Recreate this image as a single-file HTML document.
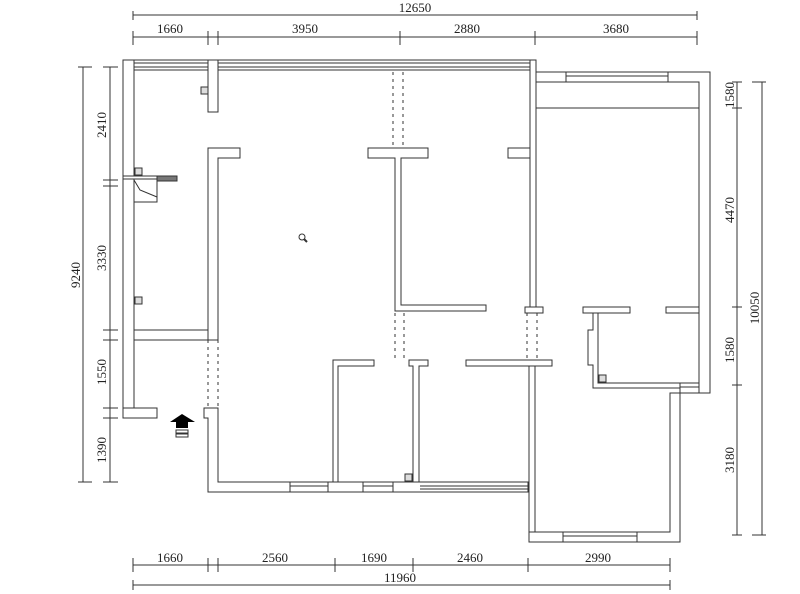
<!DOCTYPE html>
<html><head><meta charset="utf-8"><style>
html,body{margin:0;padding:0;background:#fff;width:800px;height:594px;overflow:hidden}
svg{display:block}
text{font-family:"Liberation Serif",serif;font-size:13px;fill:#222}
</style></head><body>
<svg width="800" height="594" viewBox="0 0 800 594" xmlns="http://www.w3.org/2000/svg">
<g stroke="#333" stroke-width="1" fill="#fff">
<!-- top wall with window lines -->
<rect x="123" y="60" width="412" height="10"/>
<line x1="134" y1="63" x2="530" y2="63"/><line x1="134" y1="67" x2="530" y2="67"/>
<!-- left outer wall -->
<rect x="123" y="60" width="11" height="358" />
<rect x="123" y="408" width="34" height="10"/>
<rect x="134" y="330" width="74" height="10"/>
<!-- left partition upper stub -->
<rect x="208" y="60" width="10" height="52"/>
<!-- left partition -->
<path d="M208 148 H240 V158 H218 V340 H208 Z"/>
<!-- entry / bottom left -->
<path d="M204 408 H218 V482 H528 V492 H208 V418 H204 Z"/>
<!-- windows bottom -->
<rect x="290" y="482" width="38" height="10"/><line x1="290" y1="486" x2="328" y2="486"/>
<rect x="363" y="482" width="30" height="10"/><line x1="363" y1="486" x2="393" y2="486"/>
<line x1="420" y1="486" x2="528" y2="486"/><line x1="420" y1="489" x2="528" y2="489"/>
<!-- T wall center -->
<path d="M368 148 H428 V158 H401 V305 H486 V311 H395 V158 H368 Z"/>
<rect x="508" y="148" width="22" height="10"/>
<!-- lower partitions -->
<path d="M333 360 H374 V366 H338 V482 H333 Z"/>
<path d="M409 360 H428 V366 H419 V482 H413 V366 H409 Z"/>
<rect x="466" y="360" width="86" height="6"/>
<!-- main vertical divider -->
<rect x="530" y="60" width="6" height="247"/>
<rect x="525" y="307" width="18" height="6"/>
<rect x="529" y="366" width="6" height="176"/>
<!-- right wing -->
<path d="M536 72 H710 V393 H699 V82 H536 Z"/>
<line x1="536" y1="108" x2="699" y2="108"/>
<rect x="566" y="72" width="102" height="10"/><line x1="566" y1="76" x2="668" y2="76"/>
<rect x="583" y="307" width="47" height="6"/>
<rect x="666" y="307" width="33" height="6"/>
<path d="M593 313 H598 V383 H680 V388 H593 V365 H588 V330 H593 Z"/>
<rect x="680" y="383" width="19" height="10"/><line x1="680" y1="387" x2="699" y2="387"/>
<!-- lower right room -->
<path d="M535 532 H670 V393 H680 V542 H529 V532 Z"/>
<rect x="563" y="532" width="74" height="10"/><line x1="563" y1="536" x2="637" y2="536"/>
<!-- sink -->
<rect x="134" y="178" width="23" height="24"/>
<polyline points="134,180 140,190 157,197" fill="none"/>
<rect x="157" y="176" width="20" height="5" fill="#777"/>
<rect x="123" y="176" width="34" height="3"/>
</g>
<!-- dashed openings -->
<g stroke="#333" stroke-width="1" stroke-dasharray="3,4">
<line x1="393" y1="72" x2="393" y2="148"/><line x1="403" y1="72" x2="403" y2="148"/>
<line x1="395" y1="313" x2="395" y2="360"/><line x1="404" y1="313" x2="404" y2="360"/>
<line x1="208" y1="340" x2="208" y2="408"/><line x1="218" y1="340" x2="218" y2="408"/>
<line x1="527" y1="313" x2="527" y2="360"/><line x1="537" y1="313" x2="537" y2="360"/>
</g>
<!-- small symbols -->
<g stroke="#333" stroke-width="1" fill="#ddd">
<rect x="201" y="87" width="7" height="7"/><rect x="135" y="168" width="7" height="7"/>
<rect x="135" y="297" width="7" height="7"/><rect x="405" y="474" width="7" height="7"/>
<rect x="599" y="375" width="7" height="7"/>
</g>
<circle cx="302" cy="237" r="3" fill="none" stroke="#333"/><line x1="304" y1="239" x2="307" y2="242" stroke="#333" stroke-width="2"/>
<!-- entry arrow -->
<polygon points="170,422 182,414 195,422 188,422 188,428 176,428 176,422" fill="#000"/>
<rect x="176" y="430" width="12" height="3" fill="none" stroke="#333"/>
<rect x="176" y="434" width="12" height="3" fill="none" stroke="#333"/>
<!-- dimensions -->
<g stroke="#333" stroke-width="1" fill="none">
<line x1="133" y1="15" x2="697" y2="15"/><line x1="133" y1="11" x2="133" y2="20"/><line x1="697" y1="11" x2="697" y2="20"/>
<line x1="133" y1="37" x2="697" y2="37"/>
<line x1="133" y1="31" x2="133" y2="45"/><line x1="208" y1="31" x2="208" y2="45"/><line x1="218" y1="31" x2="218" y2="45"/>
<line x1="400" y1="31" x2="400" y2="45"/><line x1="535" y1="31" x2="535" y2="45"/><line x1="697" y1="31" x2="697" y2="45"/>
<line x1="83" y1="67" x2="83" y2="482"/><line x1="78" y1="67" x2="92" y2="67"/><line x1="78" y1="482" x2="92" y2="482"/>
<line x1="110" y1="67" x2="110" y2="482"/>
<line x1="103" y1="67" x2="118" y2="67"/><line x1="103" y1="180" x2="118" y2="180"/><line x1="103" y1="186" x2="118" y2="186"/>
<line x1="103" y1="330" x2="118" y2="330"/><line x1="103" y1="340" x2="118" y2="340"/>
<line x1="103" y1="408" x2="118" y2="408"/><line x1="103" y1="418" x2="118" y2="418"/><line x1="103" y1="482" x2="118" y2="482"/>
<line x1="737" y1="82" x2="737" y2="535"/>
<line x1="732" y1="82" x2="742" y2="82"/><line x1="732" y1="108" x2="742" y2="108"/>
<line x1="732" y1="307" x2="742" y2="307"/><line x1="732" y1="385" x2="742" y2="385"/><line x1="732" y1="535" x2="742" y2="535"/>
<line x1="762" y1="82" x2="762" y2="535"/><line x1="752" y1="82" x2="766" y2="82"/><line x1="752" y1="535" x2="766" y2="535"/>
<line x1="133" y1="565" x2="670" y2="565"/>
<line x1="133" y1="558" x2="133" y2="572"/><line x1="208" y1="558" x2="208" y2="572"/><line x1="218" y1="558" x2="218" y2="572"/>
<line x1="335" y1="558" x2="335" y2="572"/><line x1="413" y1="558" x2="413" y2="572"/><line x1="528" y1="558" x2="528" y2="572"/><line x1="670" y1="558" x2="670" y2="572"/>
<line x1="133" y1="585" x2="670" y2="585"/><line x1="133" y1="580" x2="133" y2="590"/><line x1="670" y1="580" x2="670" y2="590"/>
</g>
<g text-anchor="middle">
<text x="415" y="12">12650</text>
<text x="170" y="33">1660</text><text x="305" y="33">3950</text><text x="467" y="33">2880</text><text x="616" y="33">3680</text>
<text x="170" y="562">1660</text><text x="275" y="562">2560</text><text x="374" y="562">1690</text><text x="470" y="562">2460</text><text x="598" y="562">2990</text>
<text x="400" y="582">11960</text>
<text transform="translate(80,275) rotate(-90)">9240</text>
<text transform="translate(106,125) rotate(-90)">2410</text>
<text transform="translate(106,258) rotate(-90)">3330</text>
<text transform="translate(106,372) rotate(-90)">1550</text>
<text transform="translate(106,450) rotate(-90)">1390</text>
<text transform="translate(734,95) rotate(-90)">1580</text>
<text transform="translate(734,210) rotate(-90)">4470</text>
<text transform="translate(734,350) rotate(-90)">1580</text>
<text transform="translate(734,460) rotate(-90)">3180</text>
<text transform="translate(759,308) rotate(-90)">10050</text>
</g>
</svg>
</body></html>
